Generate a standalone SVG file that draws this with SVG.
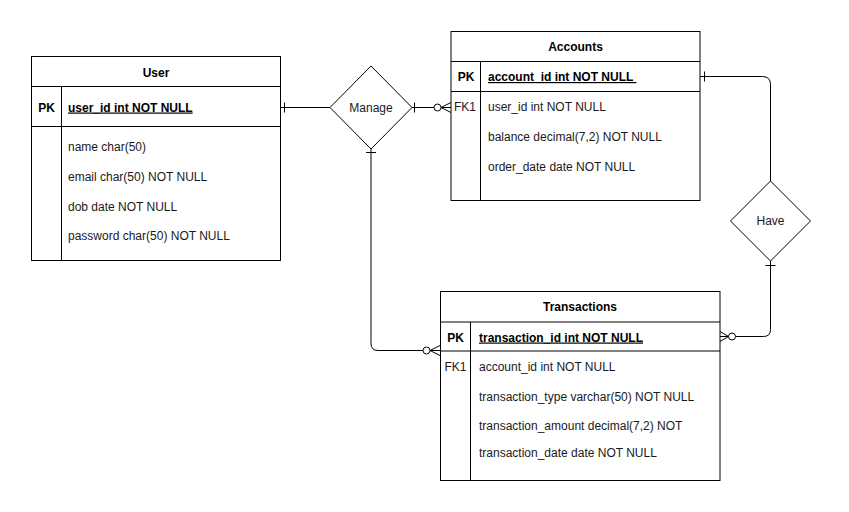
<svg xmlns="http://www.w3.org/2000/svg" width="849" height="512" viewBox="0 0 849 512">
<style>
  .box { fill: #ffffff; stroke: #000000; stroke-width: 1; }
  .sep { stroke: #000000; stroke-width: 1; fill: none; }
  .t { font-family: "Liberation Sans", Arial, sans-serif; font-size: 12px; fill: #1a1a1a; }
  .h { font-family: "Liberation Sans", Arial, sans-serif; font-size: 12px; font-weight: bold; fill: #000000; text-anchor: middle; }
  .k { font-family: "Liberation Sans", Arial, sans-serif; font-size: 12px; font-weight: bold; fill: #000000; }
  .kc { text-anchor: middle; }
  .fk { font-family: "Liberation Sans", Arial, sans-serif; font-size: 12px; fill: #1a1a1a; text-anchor: middle; }
  .u { text-decoration: underline; }
  .c { text-anchor: middle; }
  .ln { stroke: #000000; stroke-width: 1; fill: none; }
  .circ { stroke: #000000; stroke-width: 1; fill: #ffffff; }
</style>
<rect x="0" y="0" width="849" height="512" fill="#ffffff"/>

<g id="connectors">
  <!-- User - Manage -->
  <path class="ln" d="M281 107.5 H330"/>
  <path class="ln" d="M284.5 102.5 V112.5"/>
  <!-- Manage - Accounts -->
  <path class="ln" d="M411 107.5 H434"/>
  <path class="ln" d="M414.5 102.5 V112.5"/>
  <circle class="circ" cx="437.5" cy="107.5" r="3.5"/>
  <path class="ln" d="M451 102.5 L441 107.5 L451 112.5 M441 107.5 H451"/>
  <!-- Manage - Transactions -->
  <path class="ln" d="M371 149 V343.5 Q371 350.5 378 350.5 H423"/>
  <path class="ln" d="M366 152.5 H376"/>
  <circle class="circ" cx="426.5" cy="350.5" r="3.5"/>
  <path class="ln" d="M440 345.5 L430 350.5 L440 355.5 M430 350.5 H440"/>
  <!-- Accounts - Have -->
  <path class="ln" d="M700 76.5 H762.5 Q770.5 76.5 770.5 84.5 V181"/>
  <path class="ln" d="M704.5 71.5 V81.5"/>
  <!-- Have - Transactions -->
  <path class="ln" d="M770.5 261 V329.5 Q770.5 336.5 763.5 336.5 H735.5"/>
  <path class="ln" d="M765.5 265.5 H775.5"/>
  <circle class="circ" cx="732" cy="336.5" r="3.5"/>
  <path class="ln" d="M720 331.5 L728.5 336.5 L720 341.5 M720 336.5 H728.5"/>
</g>

<g id="user">
  <rect class="box" x="31.5" y="56.5" width="249" height="204"/>
  <path class="sep" d="M31.5 86.5 H280.5 M31.5 126.5 H280.5 M61.5 86.5 V260.5"/>
  <text class="h" x="156" y="77">User</text>
  <text class="k kc" x="46.5" y="111.5">PK</text>
  <text class="k u" x="68" y="111.5">user_id int NOT NULL</text>
  <text class="t" x="68" y="151">name char(50)</text>
  <text class="t" x="68" y="181">email char(50) NOT NULL</text>
  <text class="t" x="68" y="210.5">dob date NOT NULL</text>
  <text class="t" x="68" y="240">password char(50) NOT NULL</text>
</g>

<g id="manage">
  <polygon class="box" points="330,107.5 371,66 412,107.5 371,149"/>
  <text class="t c" x="371" y="111.5">Manage</text>
</g>

<g id="accounts">
  <rect class="box" x="451" y="31.5" width="249" height="169"/>
  <path class="sep" d="M451 61.5 H700 M451 91.5 H700 M480.5 61.5 V200.5"/>
  <text class="h" x="575.5" y="51">Accounts</text>
  <text class="k kc" x="466" y="81">PK</text>
  <text class="k u" x="488" y="81" xml:space="preserve">account_id int NOT NULL </text>
  <text class="fk" x="465" y="110.5">FK1</text>
  <text class="t" x="488" y="110.5">user_id int NOT NULL</text>
  <text class="t" x="488" y="140.5">balance decimal(7,2) NOT NULL</text>
  <text class="t" x="488" y="170.5">order_date date NOT NULL</text>
</g>

<g id="have">
  <polygon class="box" points="730.5,221 770.5,181 810.5,221 770.5,261"/>
  <text class="t c" x="770.5" y="225">Have</text>
</g>

<g id="transactions">
  <rect class="box" x="440.5" y="291.5" width="279.5" height="189"/>
  <path class="sep" d="M440.5 322 H720 M440.5 351 H720 M470.5 322 V480.5"/>
  <text class="h" x="580" y="311">Transactions</text>
  <text class="k kc" x="455.5" y="341.5">PK</text>
  <text class="k u" x="479" y="341.5">transaction_id int NOT NULL</text>
  <text class="fk" x="455.5" y="371">FK1</text>
  <text class="t" x="479" y="371">account_id int NOT NULL</text>
  <text class="t" x="479" y="400.5">transaction_type varchar(50) NOT NULL</text>
  <text class="t" x="479" y="429.5">transaction_amount decimal(7,2) NOT</text>
  <text class="t" x="479" y="456.5">transaction_date date NOT NULL</text>
</g>
</svg>
